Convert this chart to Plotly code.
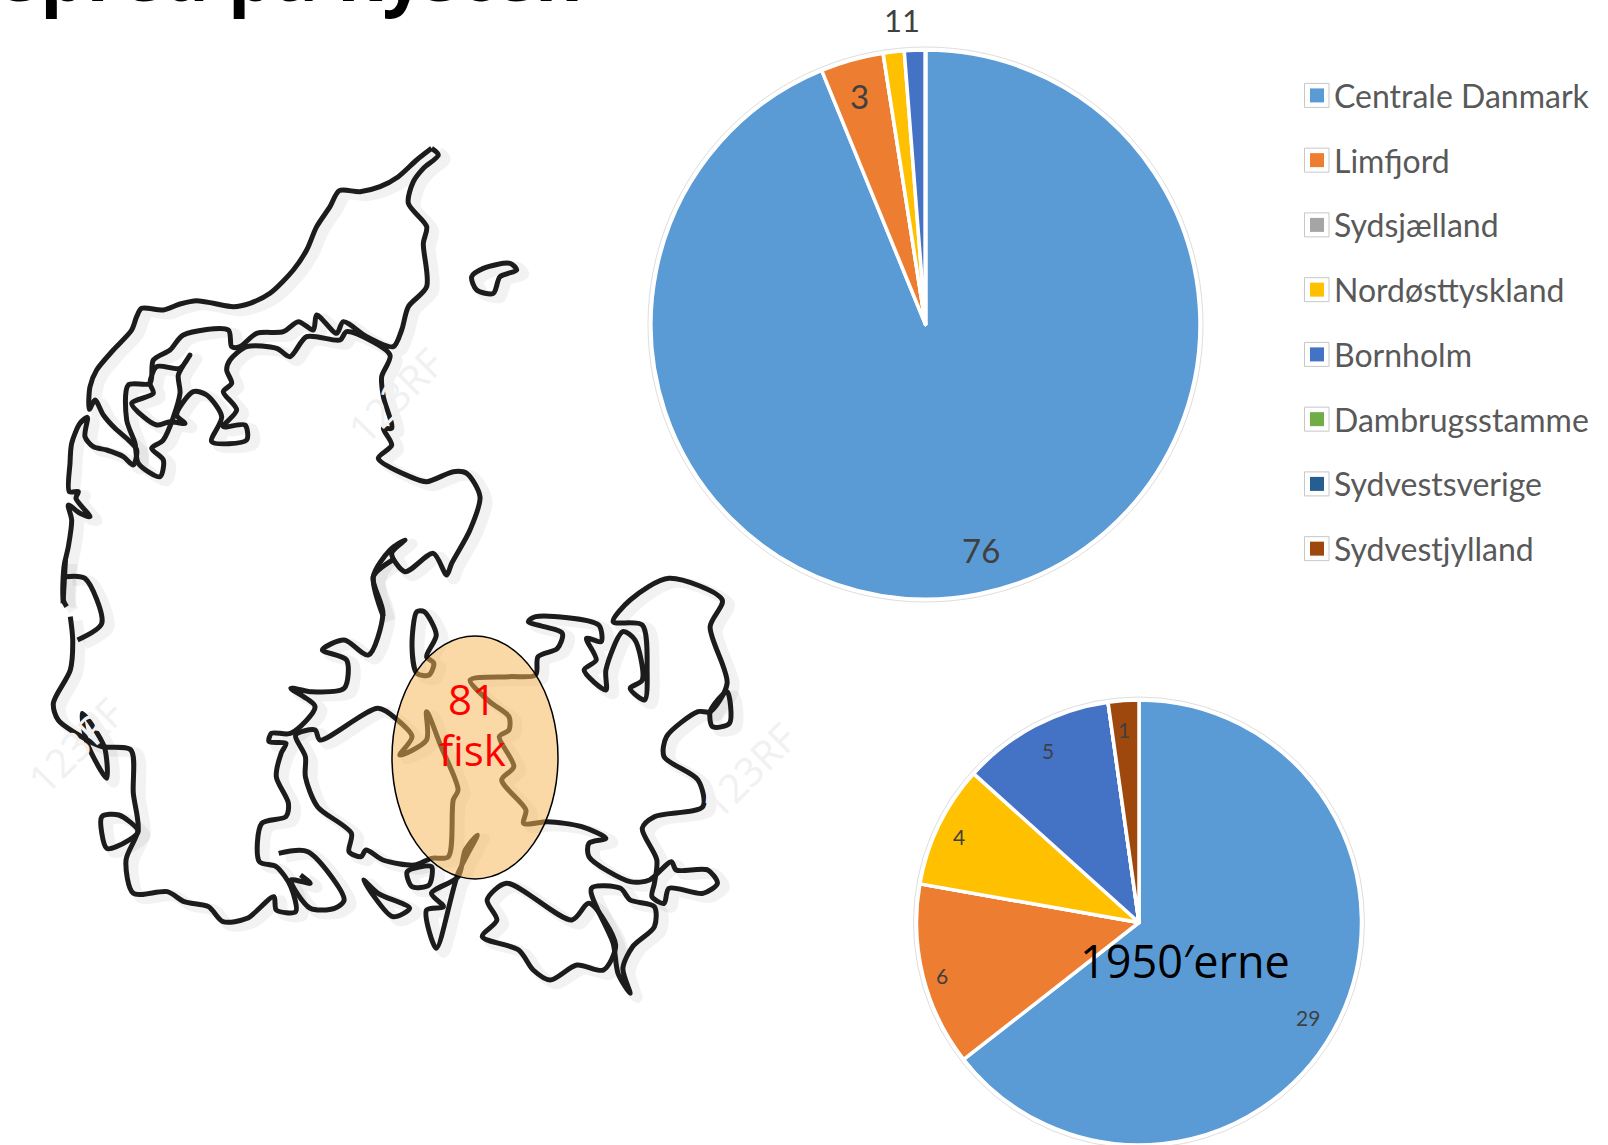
import plotly.graph_objects as go

categories = ["Centrale Danmark", "Limfjord", "Sydsjælland", "Nordøsttyskland",
              "Bornholm", "Dambrugsstamme", "Sydvestsverige", "Sydvestjylland"]
values_top = [76, 3, 0, 1, 1, 0, 0, 0]
values_1950 = [29, 6, 0, 4, 5, 0, 0, 1]
colors = ["#5B9BD5", "#ED7D31", "#A5A5A5", "#FFC000", "#4472C4", "#70AD47", "#255E91", "#9E480E"]

W, H = 1608, 1145
PIE_TOP = (925.5, 324.5, 274.5)
PIE_1950 = (1139.0, 922.5, 222.5)

# Coast outlines in two crop coordinate systems
A = lambda pts: [(x / 3, 120 + y / 3) for x, y in pts]
B = lambda pts: [(x / 2.063, 560 + y / 3) for x, y in pts]

coast_paths = [
    # North Jutland west coast
    A([(1295,85),(1250,120),(1195,170),(1140,200),(1080,215),(1018,212),(990,260),(950,320),(920,390),(880,450),
       (810,520),(750,550),(700,560),(640,550),(590,542),(540,552),(490,570),(425,565),(410,590),(395,630),(340,690),
       (290,750),(270,800),(268,868),(285,840),(310,885),(345,925),(385,960),(410,990),(400,1035),(370,1010),(320,990),
       (280,980),(255,950),(262,892),(240,910),(215,970),(210,1030),(208,1115),(235,1115),(228,1135),(270,1190),(240,1180),
       (205,1155),(215,1200),(205,1280),(192,1340),(190,1440),(200,1460)]),
    # Skagen east side and Jutland east coast, north part
    A([(1295,85),(1315,105),(1270,145),(1240,185),(1225,250),(1280,320),(1270,370),(1280,500),(1225,560),(1205,630),
       (1180,680),(1100,650),(1030,605),(1010,640),(950,585),(940,630),(895,605),(850,635),(770,640),(720,680),(695,680),
       (685,630),(550,645),(510,690),(460,720),(450,790),(385,795),(380,900),(405,970),(415,1030),(480,1070),(490,1020),
       (455,985),(490,960),(540,820),(535,765),(570,705),(540,745),(470,740),(450,790),(460,820),(395,850),(430,890),
       (470,915),(510,905),(555,910),(530,885),(580,815),(620,825),(665,890),(635,965),(740,960),(735,915),(670,920),
       (710,870),(670,815),(695,790),(680,750),(690,720),(740,680),(830,685),(870,710),(920,650),(1020,660),(1040,635),
       (1170,705),(1145,770),(1150,830),(1175,925),(1150,925),(1175,975),(1135,1015),(1230,1070),(1280,1085),(1360,1055),
       (1400,1060),(1440,1130),(1410,1230),(1355,1330),(1340,1365),(1300,1300),(1215,1355),(1175,1300),(1215,1260),
       (1170,1290),(1120,1370),(1150,1490)]),
    # Jutland east coast, south part
    B([(810,0),(770,50),(790,160),(760,285),(710,240),(665,270),(715,300),(710,385),(640,395),(600,385),(650,440),
       (600,520),(560,520),(555,545),(590,550),(580,580),(570,650),(595,730),(590,770),(540,790),(535,905),(570,920),
       (600,980),(610,1055),(570,1050),(565,1010),(510,1075),(460,1085),(430,1040),(380,1025),(345,995),(275,1000),
       (260,900),(285,810),(275,700),(270,570),(210,560),(180,540),(120,480),(110,430),(145,330),(150,240),(145,170)]),
    B([(135,0),(130,130)]),
    B([(135,50),(175,55),(210,190),(160,240)]),
    # Funen
    B([(610,525),(650,510),(660,540),(780,445),(820,480),(850,530),(825,585),(880,540),(880,455),(910,560),(945,690),
       (935,720),(925,890),(890,895),(855,915),(790,900),(755,870),(745,890),(720,875),(725,820),(655,740),(630,650),
       (630,590),(610,525)]),
    # Zealand
    B([(1105,170),(1090,185),(1160,220),(1150,265),(1110,290),(1105,345),(1050,350),(970,360),(1010,425),(1050,470),
       (1050,510),(1030,530),(1060,620),(1035,660),(1085,750),(1080,790),(1130,785),(1200,800),(1250,835),(1215,850),
       (1215,890),(1300,965),(1340,960),(1385,905),(1395,930),(1460,930),(1480,970),(1450,1000),(1380,985),(1370,1030),
       (1345,1010),(1350,970),(1355,900),(1325,805),(1350,770),(1450,740),(1440,660),(1370,590),(1375,530),(1440,455),
       (1465,455),(1500,370),(1465,200),(1490,120),(1380,55),(1300,120),(1265,185),(1325,195),(1335,330),(1330,420),
       (1300,385),(1325,360),(1310,240),(1285,215),(1250,330),(1250,390),(1205,330),(1230,300),(1210,235),(1240,245),
       (1235,195),(1105,170)]),
    # Islands
    B([(985,825),(945,940),(900,1165),(880,1050),(915,1040),(890,1000),(945,950),(960,870),(985,825)]),
    B([(750,960),(810,1070),(845,1045),(780,1000),(750,960)]),
    B([(840,935),(890,920),(885,975),(850,980),(840,935)]),
    B([(575,880),(635,875),(710,1020),(690,1045),(640,1045),(600,960),(640,970),(620,945)]),
    B([(1045,970),(1180,1080),(1215,1030),(1270,1155),(1245,1230),(1190,1215),(1135,1260),(1100,1230),(1070,1170),
       (995,1130),(1025,1080),(1005,1020),(1045,970)]),
    B([(1220,985),(1280,985),(1300,1020),(1350,1040),(1350,1100),(1305,1160),(1285,1225),(1300,1300),(1275,1240),
       (1265,1150),(1220,985)]),
    B([(1470,500),(1505,490),(1500,395),(1465,455),(1470,500)]),
    B([(860,155),(875,155),(900,225),(880,290),(895,310),(885,345),(860,340),(850,260),(860,155)]),
    B([(210,770),(245,765),(285,815),(240,860),(220,865),(210,770)]),
    B([(170,460),(215,560),(220,655),(180,550),(170,460)]),
    A([(1415,470),(1450,445),(1530,430),(1550,450),(1500,470),(1480,520),(1430,510),(1415,470)]),
]


def dom(cx, cy, r):
    clamp = lambda v: min(1.0, max(0.0, v))
    return dict(x=[clamp((cx - r) / W), clamp((cx + r) / W)], y=[clamp(1 - (cy + r) / H), clamp(1 - (cy - r) / H)])


fig = go.Figure()

# soft shadow, then the outline
for dx, dy, col, wid in [(7, 4, "rgba(0,0,0,0.05)", 11), (0, 0, "#1c1c1c", 5)]:
    xs, ys = [], []
    for p in coast_paths:
        xs += [q[0] + dx for q in p] + [None]
        ys += [q[1] + dy for q in p] + [None]
    fig.add_trace(go.Scatter(x=xs, y=ys, mode="lines", showlegend=False, hoverinfo="skip",
                             line=dict(color=col, width=wid, shape="spline", smoothing=0.8)))

for vals, (cx, cy, r) in [(values_top, PIE_TOP), (values_1950, PIE_1950)]:
    fig.add_trace(go.Pie(labels=categories, values=vals, sort=False, direction="clockwise", rotation=0,
                         domain=dom(cx, cy, r), textinfo="none", showlegend=False, hoverinfo="skip",
                         marker=dict(colors=colors, line=dict(color="white", width=3.5))))

shapes = []
# faint ring round each pie
for cx, cy, r in (PIE_TOP, PIE_1950):
    shapes.append(dict(type="circle", xref="x", yref="y", x0=cx - r - 3, x1=cx + r + 3, y0=cy - r - 3, y1=cy + r + 3,
                       line=dict(color="#dedede", width=1), layer="below"))
# highlighted area on the map
shapes.append(dict(type="circle", xref="x", yref="y", x0=392, x1=558, y0=636, y1=879,
                   fillcolor="rgba(248,182,85,0.52)", line=dict(color="black", width=1.5), layer="above"))

annotations = []


def note(x, y, text, size, color, family="Open Sans", **kw):
    annotations.append(dict(x=x, y=y, xref="x", yref="y", text=text, showarrow=False,
                            font=dict(size=size, color=color, family=family), **kw))


# custom legend
LEG_Y0, LEG_STEP = 95.4, 64.75
for i, (name, col) in enumerate(zip(categories, colors)):
    y = LEG_Y0 + i * LEG_STEP
    shapes.append(dict(type="rect", xref="x", yref="y", x0=1304.5, x1=1329, y0=y - 12, y1=y + 12,
                       fillcolor="white", line=dict(color="#c8c8c8", width=1)))
    shapes.append(dict(type="rect", xref="x", yref="y", x0=1310, x1=1324, y0=y - 7, y1=y + 7,
                       fillcolor=col, line=dict(width=0)))
    note(1332, y, name, 32, "#595959", family="Lato", xanchor="left", yanchor="middle")

# pie labels
note(859, 96, str(values_top[1]), 33, "#404040", family="Lato")
note(902, 20, f"{values_top[3]}{values_top[4]}", 31, "#404040", family="Lato")
note(981, 550, str(values_top[0]), 33, "#404040", family="Lato")
note(1308, 1017, str(values_1950[0]), 21, "#404040", family="Lato")
note(942, 975, str(values_1950[1]), 21, "#404040", family="Lato")
note(959, 836, str(values_1950[3]), 21, "#404040", family="Lato")
note(1048, 750, str(values_1950[4]), 21, "#404040", family="Lato")
note(1124, 729, str(values_1950[7]), 21, "#404040", family="Lato")
note(1185, 960, "1950′erne", 45, "black")
note(472, 698, "81", 42, "#FF0000")
note(472, 749, "fisk", 42, "#FF0000")
# slide title, cut off by the top edge of the picture
note(585, 0, "<b>spred på kysten</b>", 73, "black", xanchor="right", yanchor="middle", yshift=28)
# faint stock-image watermarks on the map
for x, y in [(395, 395), (75, 745), (748, 770)]:
    note(x, y, "123RF", 40, "#f1f1f1", textangle=-45)

fig.update_layout(
    width=W, height=H, margin=dict(l=0, r=0, t=0, b=0), autosize=False,
    paper_bgcolor="white", plot_bgcolor="white",
    xaxis=dict(range=[0, W], visible=False, domain=[0, 1], fixedrange=True),
    yaxis=dict(range=[H, 0], visible=False, domain=[0, 1], fixedrange=True),
    shapes=shapes, annotations=annotations,
)

fig.write_html("out.html", config={"displayModeBar": False},
               post_script="document.body.style.margin='0';document.body.style.overflow='hidden';")
